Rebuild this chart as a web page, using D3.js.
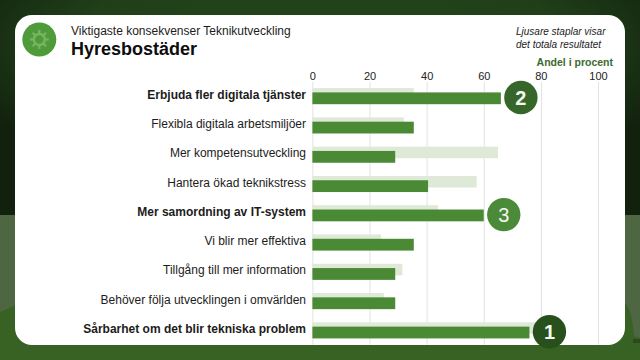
<!DOCTYPE html>
<html>
<head>
<meta charset="utf-8">
<script src="https://cdn.jsdelivr.net/npm/d3@7"></script>
<style>
html, body { margin: 0; padding: 0; background: #376224; }
svg { display: block; }
text { font-family: "Liberation Sans", Arial, sans-serif; }
</style>
</head>
<body>
<svg id="chart" width="640" height="360"></svg>
<script>
const categories = [
    "Erbjuda fler digitala tjänster",
    "Flexibla digitala arbetsmiljöer",
    "Mer kompetensutveckling",
    "Hantera ökad teknikstress",
    "Mer samordning av IT-system",
    "Vi blir mer effektiva",
    "Tillgång till mer information",
    "Behöver följa utvecklingen i omvärlden",
    "Sårbarhet om det blir tekniska problem"
];
const hyres = [66, 35.5, 29, 40.5, 60, 35.5, 29, 29, 76];
const totalt = [35.5, 32, 65, 57.5, 44, 24, 31.5, 25, 80];
const ranks = [2, 0, 0, 0, 3, 0, 0, 0, 1];
const xTicks = [0, 20, 40, 60, 80, 100];
const rankColor = {1: "#27501c", 2: "#37662b", 3: "#4a8a38"};

const svg = d3.select("#chart");

const defs = svg.append("defs");
const topGrad = defs.append("radialGradient").attr("id", "topbg")
    .attr("cx", "50%").attr("cy", "20%").attr("r", "62%");
topGrad.append("stop").attr("offset", "0%").attr("stop-color", "#234519");
topGrad.append("stop").attr("offset", "60%").attr("stop-color", "#21401a");
topGrad.append("stop").attr("offset", "100%").attr("stop-color", "#12210e");

// bakgrund
svg.append("rect").attr("width", 640).attr("height", 360).attr("fill", "#376224");
svg.append("rect").attr("width", 640).attr("height", 215).attr("fill", "url(#topbg)");
svg.append("rect").attr("y", 215).attr("width", 640).attr("height", 125).attr("fill", "#4e6742");
svg.append("path")
    .attr("d", "M0,312 Q10,308 20,303 L625,303 Q632,310 634,336 L640,338 L640,360 L0,360 Z")
    .attr("fill", "#376224");
svg.append("rect").attr("x", 633).attr("y", 339).attr("width", 7).attr("height", 4).attr("fill", "#2a4a1e");
svg.append("rect").attr("x", 15).attr("y", 15).attr("width", 610).attr("height", 330)
    .attr("rx", 17).attr("fill", "#fff");

const x = d3.scaleLinear().domain([0, 100]).range([312.4, 598]);
const y = d3.scaleBand().domain(categories).range([83.5, 347]);

// axel och rutnät
const axis = svg.append("g")
    .attr("transform", "translate(0,82)")
    .call(d3.axisTop(x).tickValues(xTicks).tickSize(-263).tickPadding(0));
axis.select(".domain").remove();
axis.selectAll("line").attr("stroke", "#e2e2e2");
axis.selectAll("text")
    .attr("y", -2)
    .attr("fill", "#222")
    .style("font-family", '"Liberation Sans", Arial, sans-serif')
    .style("font-size", "11px");

svg.append("g").selectAll("rect")
    .data(categories)
    .enter().append("rect")
    .attr("x", x(0))
    .attr("y", function (d) { return y(d) + 4.6; })
    .attr("width", function (d, i) { return x(totalt[i]) - x(0); })
    .attr("height", 11.6)
    .attr("fill", "#dfe9d8");

svg.append("g").selectAll("rect")
    .data(categories)
    .enter().append("rect")
    .attr("x", x(0))
    .attr("y", function (d) { return y(d) + 8.9; })
    .attr("width", function (d, i) { return x(hyres[i]) - x(0); })
    .attr("height", 11.8)
    .attr("fill", "#4b8a35");

// kategorier
svg.append("g").selectAll("text")
    .data(categories)
    .enter().append("text")
    .attr("x", 306)
    .attr("y", function (d) { return y(d) + 15.2; })
    .attr("text-anchor", "end")
    .attr("font-size", 12)
    .attr("font-weight", function (d, i) { return ranks[i] ? "bold" : "normal"; })
    .attr("fill", "#1c1c1c")
    .text(function (d) { return d; });

// rangordning
const rankGroups = svg.append("g").selectAll("g")
    .data(categories.filter(function (d, i) { return ranks[i]; }))
    .enter().append("g")
    .attr("transform", function (d) {
        const i = categories.indexOf(d);
        return "translate(" + (x(hyres[i]) + 20) + "," + (y(d) + 14) + ")";
    });
rankGroups.append("circle")
    .attr("r", 16.7)
    .attr("fill", function (d) { return rankColor[ranks[categories.indexOf(d)]]; });
rankGroups.append("text")
    .attr("text-anchor", "middle")
    .attr("y", 7)
    .attr("font-size", 20)
    .attr("font-weight", function (d) { return ranks[categories.indexOf(d)] === 3 ? "normal" : "bold"; })
    .attr("fill", "#f4f7f1")
    .text(function (d) { return ranks[categories.indexOf(d)]; });

// ikon
const icon = svg.append("g").attr("transform", "translate(39.3,39.5)");
icon.append("circle").attr("r", 17).attr("fill", "#4f9a3a");
icon.selectAll("line")
    .data(d3.range(8))
    .enter().append("line")
    .attr("y1", -6)
    .attr("y2", -9.5)
    .attr("stroke", "#79b560")
    .attr("stroke-width", 2.2)
    .attr("transform", function (d) { return "rotate(" + d * 45 + ")"; });
icon.append("circle").attr("r", 5.5).attr("fill", "none")
    .attr("stroke", "#79b560").attr("stroke-width", 2.4);

// rubriker
svg.append("text").attr("x", 71).attr("y", 35)
    .attr("font-size", 12).attr("fill", "#1c1c1c")
    .text("Viktigaste konsekvenser Teknikutveckling");
svg.append("text").attr("x", 71).attr("y", 55)
    .attr("font-size", 18).attr("font-weight", "bold").attr("fill", "#0d0d0d")
    .text("Hyresbostäder");

svg.append("text").attr("x", 516).attr("y", 35)
    .attr("font-size", 10).attr("font-style", "italic").attr("fill", "#1c1c1c")
    .text("Ljusare staplar visar");
svg.append("text").attr("x", 516).attr("y", 48)
    .attr("font-size", 10).attr("font-style", "italic").attr("fill", "#1c1c1c")
    .text("det totala resultatet");
svg.append("text").attr("x", 613).attr("y", 66)
    .attr("text-anchor", "end")
    .attr("font-size", 10.5).attr("font-weight", "bold").attr("fill", "#3c6a2e")
    .text("Andel i procent");
</script>
</body>
</html>
